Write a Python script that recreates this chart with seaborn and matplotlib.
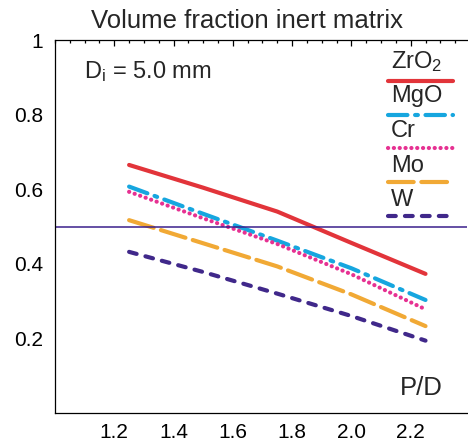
import numpy as np
import pandas as pd
import matplotlib.pyplot as plt
from matplotlib.ticker import MultipleLocator, FixedLocator, FixedFormatter
import seaborn as sns

# Dados (P/D x fracao volumetrica)
pd_ratio = [1.25, 1.50, 1.75, 2.00, 2.25]
zro2 = [0.665, 0.604, 0.540, 0.456, 0.373]
mgo = [0.607, 0.534, 0.462, 0.388, 0.303]
cr = [0.593, 0.522, 0.453, 0.372, 0.278]
mo = [0.517, 0.455, 0.393, 0.318, 0.233]
w = [0.432, 0.378, 0.320, 0.260, 0.194]
materials = ['ZrO$_2$', 'MgO', 'Cr', 'Mo', 'W']
x_ticks = [1.2, 1.4, 1.6, 1.8, 2.0, 2.2]
x_tick_labels = ['1.2', '1.4', '1.6', '1.8', '2.0', '2.2']
y_ticks = [0.2, 0.4, 0.6, 0.8, 1.0]
y_tick_labels = ['0.2', '0.4', '0.6', '0.8', '1']
ref_level = 0.5

df = pd.DataFrame({'P/D': pd_ratio * 5,
                   'frac': zro2 + mgo + cr + mo + w,
                   'material': [m for m in materials for _ in pd_ratio]})

cores = {'ZrO$_2$': '#e2343a', 'MgO': '#16a6df', 'Cr': '#e63192',
         'Mo': '#f1a935', 'W': '#40288a'}
tracos = {'ZrO$_2$': '', 'MgO': (14, 5.5, 2, 5.5), 'Cr': (0.1, 4.1),
          'Mo': (18.5, 5.5), 'W': (5.6, 6.6)}

sns.set_style('white')
plt.rcParams['font.family'] = ['Liberation Sans', 'DejaVu Sans']
plt.rcParams['mathtext.fontset'] = 'custom'
plt.rcParams['mathtext.rm'] = 'Liberation Sans'
plt.rcParams['mathtext.it'] = 'Liberation Sans:italic'
plt.rcParams['lines.scale_dashes'] = False

fig = plt.figure(figsize=(4.68, 4.42), dpi=100)
ax = fig.add_axes([55 / 468, 29 / 442, 412 / 468, 373 / 442])

sns.lineplot(data=df, x='P/D', y='frac', hue='material', style='material',
             palette=cores, dashes=tracos, hue_order=materials, style_order=materials,
             lw=3, dash_capstyle='round', solid_capstyle='round', legend=False, ax=ax)
handles = list(ax.lines[:5])
ax.axhline(ref_level, color='#3a1f8c', lw=1.1)

ax.set_xlim(1.0, 2.39)
ax.set_ylim(0, 1)
ax.xaxis.set_major_locator(FixedLocator(x_ticks))
ax.xaxis.set_major_formatter(FixedFormatter(x_tick_labels))
ax.yaxis.set_major_locator(FixedLocator(y_ticks))
ax.yaxis.set_major_formatter(FixedFormatter(y_tick_labels))
ax.xaxis.set_minor_locator(MultipleLocator(0.05))
ax.yaxis.set_minor_locator(MultipleLocator(0.05))
ax.tick_params(which='both', direction='in', top=True, right=False, color='k', width=0.9)
ax.tick_params(which='major', length=4, labelsize=15, labelcolor='k')
ax.tick_params(which='minor', length=2.5)
ax.tick_params(axis='y', pad=8.5)
ax.tick_params(axis='x', pad=7)
ax.set_xlabel('')
ax.set_ylabel('')
ax.spines['right'].set_visible(False)
for s in ['left', 'bottom', 'top']:
    ax.spines[s].set_color('k')
    ax.spines[s].set_linewidth(0.9)

ax.set_title('Volume fraction inert matrix', fontsize=18.5, x=0.466, pad=9)
ax.text(0.07, 0.898, r'D$_\mathrm{i}$ = 5.0 mm', transform=ax.transAxes, fontsize=17)
ax.text(0.942, 0.048, 'P/D', transform=ax.transAxes, fontsize=18.5, ha='right')

# Legenda: amostras das linhas + rotulos acima
ax.legend(handles, [''] * 5, loc='upper left', bbox_to_anchor=(0.808, 0.907),
          frameon=False, fontsize=10, handlelength=4.68, handleheight=1.5,
          handletextpad=0, labelspacing=1.2, borderpad=0, borderaxespad=0)
for i, m in enumerate(materials):
    ax.text(0.816, 0.926 - i * 0.093, m, transform=ax.transAxes, fontsize=17,
            va='baseline')

plt.savefig('out.png', dpi=100)
plt.close()
